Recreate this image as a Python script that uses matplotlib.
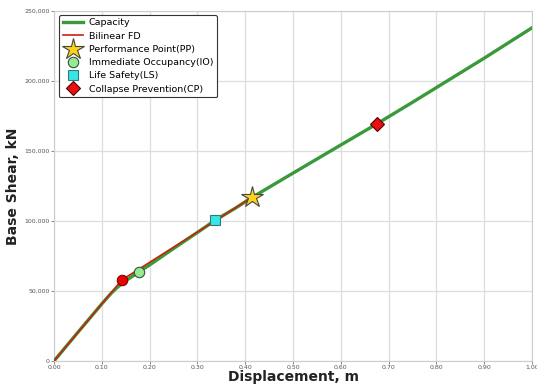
import matplotlib
matplotlib.use("Agg")
import matplotlib.pyplot as plt
from matplotlib.ticker import FuncFormatter, MultipleLocator

# Capacity curve
cap_disp = [0.0, 0.05, 0.10, 0.12, 0.13, 0.14, 0.15, 0.16, 0.178, 0.20, 0.25, 0.30, 0.337,
            0.38, 0.415, 0.50, 0.60, 0.675, 0.75, 0.80, 0.90, 1.00]
cap_shear = [0, 20500, 40800, 48500, 51800, 54800, 57300, 59600, 63800, 68600, 80300,
             91800, 100500, 109300, 117000, 134200, 154300, 169300, 184800, 195300,
             216300, 238000]

# Bilinear FD
bil_disp = [0.0, 0.142, 0.415]
bil_shear = [0, 57900, 117000]

# Points
yield_pt = (0.142, 57900)
io_pt = (0.178, 63800)
ls_pt = (0.337, 100500)
pp_pt = (0.415, 117000)
cp_pt = (0.675, 169300)

fig = plt.figure(figsize=(5.37, 3.88), dpi=100)
ax = fig.add_axes([54/537, 1 - 361/388, 478/537, 350/388])

ax.plot(cap_disp, cap_shear, color='#3a9a3a', lw=2.4, label='Capacity', zorder=3)
ax.plot(bil_disp, bil_shear, color='#c8210f', lw=1.2, label='Bilinear FD', zorder=4)
ax.plot(*yield_pt, 'o', color='#ee0000', mec='#7a0000', ms=7.5, mew=0.8, zorder=5)
ax.plot(*pp_pt, marker='*', color='#ffd21a', mec='#444444', ms=16, mew=0.8, ls='none',
        label='Performance Point(PP)', zorder=6)
ax.plot(*io_pt, 'o', color='#98e898', mec='#335533', ms=7.5, mew=0.8, ls='none',
        label='Immediate Occupancy(IO)', zorder=6)
ax.plot(*ls_pt, 's', color='#38e6e6', mec='#337777', ms=7, mew=0.8, ls='none',
        label='Life Safety(LS)', zorder=6)
ax.plot(*cp_pt, 'D', color='#e81010', mec='#550000', ms=7.5, mew=0.8, ls='none',
        label='Collapse Prevention(CP)', zorder=6)

ax.set_xlim(0, 1.0)
ax.set_ylim(0, 250000)
ax.xaxis.set_major_locator(MultipleLocator(0.1))
ax.yaxis.set_major_locator(MultipleLocator(50000))
ax.xaxis.set_major_formatter(FuncFormatter(lambda v, p: f"{v:.2f}"))
ax.yaxis.set_major_formatter(FuncFormatter(lambda v, p: f"{int(round(v)):,}"))
ax.tick_params(labelsize=4.5, colors='#555555', length=2, width=0.5, pad=1.2)
ax.grid(True, color='#dddddd', lw=0.9)
ax.set_axisbelow(True)
for s in ax.spines.values():
    s.set_color('#cccccc')
    s.set_linewidth(0.8)

ax.set_xlabel('Displacement, m', fontsize=10, fontweight='bold', color='#222222', labelpad=0)
ax.set_ylabel('Base Shear, kN', fontsize=10, fontweight='bold', color='#222222', labelpad=3)

leg = ax.legend(loc='upper left', fontsize=6.8, frameon=True, fancybox=True,
                edgecolor='#333333', framealpha=1.0, borderpad=0.4, labelspacing=0.45,
                handlelength=2.2, handletextpad=0.6, borderaxespad=0.2,
                bbox_to_anchor=(0.006, 0.995))
leg.get_frame().set_linewidth(0.8)

fig.savefig('out.png', dpi=100, facecolor='white')
